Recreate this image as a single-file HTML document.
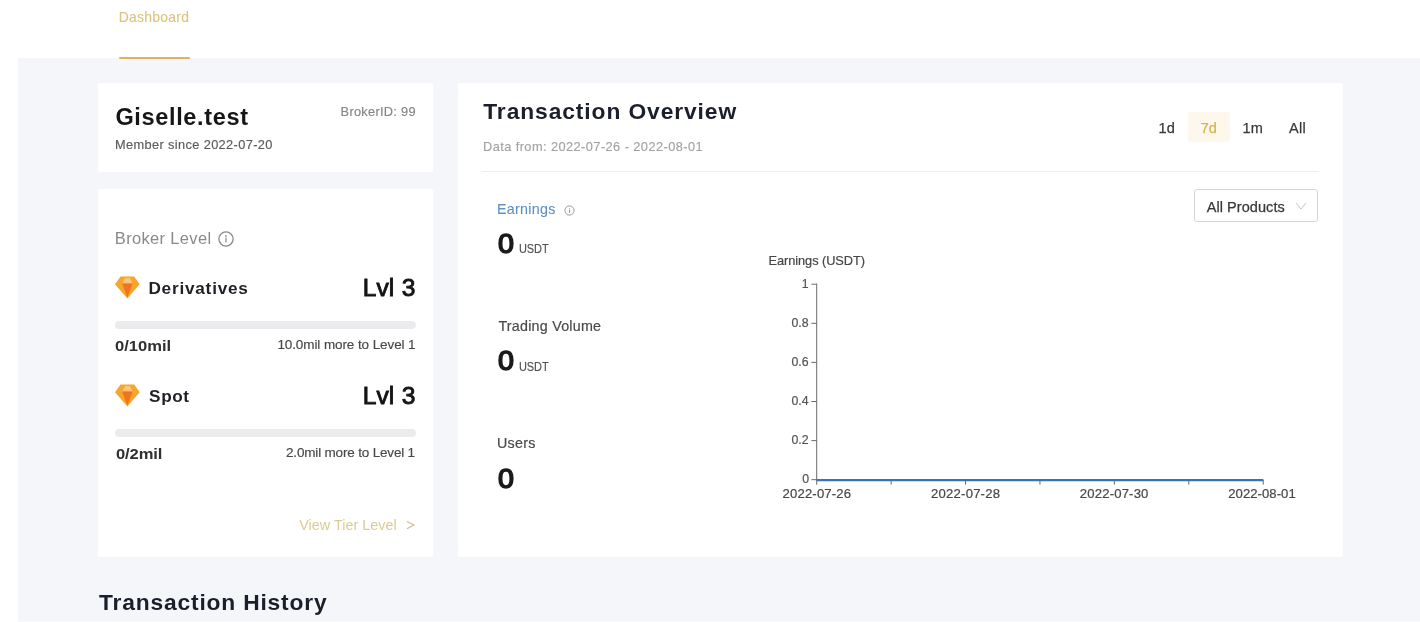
<!DOCTYPE html>
<html><head><meta charset="utf-8"><title>Dashboard</title><style>
html,body{margin:0;padding:0;width:1420px;height:622px;overflow:hidden;background:#fff;position:relative;font-family:"Liberation Sans",sans-serif;}
.abs{position:absolute;}
.t{position:absolute;white-space:nowrap;font-family:"Liberation Sans",sans-serif;}
.card{position:absolute;background:#fff;border-radius:2px;}
</style></head><body><div id="w" style="position:absolute;left:0;top:0;width:1440px;height:640px;overflow:hidden;filter:blur(0.4px)">
<div class="abs" style="left:18px;top:58px;right:0;bottom:0;background:#f4f6f9"></div>
<div class="abs" style="left:119px;top:56.5px;width:71px;height:2.2px;background:#deb260;border-radius:1px"></div>
<div class="card" style="left:98px;top:83.3px;width:335px;height:89px"></div>
<div class="card" style="left:98.2px;top:188.8px;width:334.8px;height:367.9px"></div>
<div class="card" style="left:457.8px;top:83.2px;width:885px;height:473.9px"></div>
<div class="abs" style="left:115px;top:320.7px;width:301px;height:8.2px;background:#ebebed;border-radius:4px"></div>
<div class="abs" style="left:115px;top:429px;width:301px;height:8.2px;background:#ebebed;border-radius:4px"></div>
<svg class="abs" style="left:218.4px;top:230.5px" width="16" height="16" viewBox="0 0 16 16"><circle cx="8" cy="8" r="7.1" fill="none" stroke="#8a8a8a" stroke-width="1.3"/><circle cx="8" cy="4.9" r="0.85" fill="#8a8a8a"/><rect x="7.4" y="6.6" width="1.2" height="4.9" fill="#8a8a8a"/></svg>
<svg class="abs" style="left:114.8px;top:275.6px" width="26" height="24" viewBox="0 0 26 24">
<polygon points="5.5,0.6 19.2,0.6 24.7,8.3 12.35,22.6 0,8.3" fill="#f6a62a"/>
<polygon points="10.1,2 14.9,2 17.7,7.6 7.2,7.6" fill="#fdc47a"/>
<polygon points="7.1,7.6 17.6,7.6 12.35,21.6" fill="#ef7421"/>
</svg>
<svg class="abs" style="left:114.8px;top:384.4px" width="26" height="24" viewBox="0 0 26 24">
<polygon points="5.5,0.6 19.2,0.6 24.7,8.3 12.35,22.6 0,8.3" fill="#f6a62a"/>
<polygon points="10.1,2 14.9,2 17.7,7.6 7.2,7.6" fill="#fdc47a"/>
<polygon points="7.1,7.6 17.6,7.6 12.35,21.6" fill="#ef7421"/>
</svg>
<svg class="abs" style="left:405px;top:518px" width="12" height="14" viewBox="0 0 12 14"><polyline points="2,3.4 9,7.1 2,10.8" fill="none" stroke="#cbbd92" stroke-width="1.1"/></svg>
<div class="abs" style="left:482px;top:171.4px;width:837px;height:1px;background:#eeeeee"></div>
<div class="abs" style="left:1188.3px;top:112.2px;width:41.7px;height:29.8px;background:#fef8ec;border-radius:3px"></div>
<div class="abs" style="left:1194.2px;top:189.0px;width:121.6px;height:31.3px;border:1px solid #d6d6d6;border-radius:3px"></div>
<svg class="abs" style="left:1295px;top:201px" width="12" height="10" viewBox="0 0 12 10"><polyline points="1,2 6,8 11,2" fill="none" stroke="#c4c4c4" stroke-width="1"/></svg>
<svg class="abs" style="left:563.6px;top:205.1px" width="11" height="11" viewBox="0 0 11 11"><circle cx="5.5" cy="5.5" r="4.6" fill="none" stroke="#9a9a9a" stroke-width="1"/><rect x="5" y="4.4" width="1" height="3.4" fill="#9a9a9a"/><circle cx="5.5" cy="3.2" r="0.55" fill="#9a9a9a"/></svg>
<svg class="abs" style="left:0;top:0" width="1420" height="622">
<line x1="816.7" y1="283.6" x2="816.7" y2="480" stroke="#6a6a6a" stroke-width="1"/>
<line x1="811.4" y1="284.2" x2="816.7" y2="284.2" stroke="#6a6a6a" stroke-width="1"/>
<line x1="811.4" y1="323.3" x2="816.7" y2="323.3" stroke="#6a6a6a" stroke-width="1"/>
<line x1="811.4" y1="362.4" x2="816.7" y2="362.4" stroke="#6a6a6a" stroke-width="1"/>
<line x1="811.4" y1="401.5" x2="816.7" y2="401.5" stroke="#6a6a6a" stroke-width="1"/>
<line x1="811.4" y1="440.6" x2="816.7" y2="440.6" stroke="#6a6a6a" stroke-width="1"/>
<line x1="811.4" y1="479.7" x2="816.7" y2="479.7" stroke="#6a6a6a" stroke-width="1"/>
<line x1="816.70" y1="479.7" x2="816.70" y2="484.7" stroke="#6a6a6a" stroke-width="1"/>
<line x1="891.12" y1="479.7" x2="891.12" y2="484.7" stroke="#6a6a6a" stroke-width="1"/>
<line x1="965.54" y1="479.7" x2="965.54" y2="484.7" stroke="#6a6a6a" stroke-width="1"/>
<line x1="1039.96" y1="479.7" x2="1039.96" y2="484.7" stroke="#6a6a6a" stroke-width="1"/>
<line x1="1114.38" y1="479.7" x2="1114.38" y2="484.7" stroke="#6a6a6a" stroke-width="1"/>
<line x1="1188.80" y1="479.7" x2="1188.80" y2="484.7" stroke="#6a6a6a" stroke-width="1"/>
<line x1="1263.22" y1="479.7" x2="1263.22" y2="484.7" stroke="#6a6a6a" stroke-width="1"/>
<line x1="816.7" y1="480.1" x2="1263.2" y2="480.1" stroke="#3276b6" stroke-width="2.1"/>
</svg>
<div class="t" style="left:118.80px;top:11.00px;font-size:13.9px;line-height:13.9px;color:#dcc27e;letter-spacing:0.275px;-webkit-text-stroke:0.1px #dcc27e;">Dashboard</div>
<div class="t" style="left:115.40px;top:105.80px;font-size:23.5px;line-height:23.5px;color:#161616;font-weight:bold;letter-spacing:0.655px;">Giselle.test</div>
<div class="t" style="left:115.00px;top:139.20px;font-size:12.8px;line-height:12.8px;color:#5a5a5a;letter-spacing:0.364px;-webkit-text-stroke:0.15px #5a5a5a;">Member since 2022-07-20</div>
<div class="t" style="left:340.60px;top:105.60px;font-size:12.8px;line-height:12.8px;color:#858585;letter-spacing:0.282px;-webkit-text-stroke:0.15px #858585;">BrokerID: 99</div>
<div class="t" style="left:114.80px;top:230.20px;font-size:16.5px;line-height:16.5px;color:#8a8a8a;letter-spacing:0.336px;">Broker Level</div>
<div class="t" style="left:148.40px;top:280.00px;font-size:17.2px;line-height:17.2px;color:#1e2026;font-weight:bold;letter-spacing:0.780px;">Derivatives</div>
<div class="t" style="left:362.70px;top:276.20px;font-size:24.6px;line-height:24.6px;color:#141414;letter-spacing:0.050px;-webkit-text-stroke:0.9px #141414;">Lvl</div>
<div class="t" style="left:401.70px;top:276.20px;font-size:24.6px;line-height:24.6px;color:#141414;-webkit-text-stroke:0.9px #141414;">3</div>
<div class="t" style="left:115.00px;top:339.10px;font-size:14.8px;line-height:14.8px;color:#303030;font-weight:bold;letter-spacing:-0.017px;transform:scaleX(1.12);transform-origin:0 0;">0/10mil</div>
<div class="t" style="left:277.40px;top:338.30px;font-size:13.5px;line-height:13.5px;color:#474747;letter-spacing:-0.095px;-webkit-text-stroke:0.15px #474747;">10.0mil more to Level 1</div>
<div class="t" style="left:149.10px;top:388.00px;font-size:17.2px;line-height:17.2px;color:#1e2026;font-weight:bold;letter-spacing:0.600px;">Spot</div>
<div class="t" style="left:362.70px;top:384.20px;font-size:24.6px;line-height:24.6px;color:#141414;letter-spacing:0.050px;-webkit-text-stroke:0.9px #141414;">Lvl</div>
<div class="t" style="left:401.70px;top:384.20px;font-size:24.6px;line-height:24.6px;color:#141414;-webkit-text-stroke:0.9px #141414;">3</div>
<div class="t" style="left:115.50px;top:447.30px;font-size:14.8px;line-height:14.8px;color:#303030;font-weight:bold;letter-spacing:-0.120px;transform:scaleX(1.12);transform-origin:0 0;">0/2mil</div>
<div class="t" style="left:286.00px;top:445.90px;font-size:13.5px;line-height:13.5px;color:#474747;letter-spacing:-0.176px;-webkit-text-stroke:0.15px #474747;">2.0mil more to Level 1</div>
<div class="t" style="left:299.20px;top:517.80px;font-size:14.3px;line-height:14.3px;color:#dccb92;letter-spacing:0.057px;">View Tier Level</div>
<div class="t" style="left:483.30px;top:100.00px;font-size:22.8px;line-height:22.8px;color:#1b1e2c;font-weight:bold;letter-spacing:0.905px;">Transaction Overview</div>
<div class="t" style="left:483.00px;top:140.60px;font-size:12.8px;line-height:12.8px;color:#a3a3a3;letter-spacing:0.424px;-webkit-text-stroke:0.15px #a3a3a3;">Data from: 2022-07-26 - 2022-08-01</div>
<div class="t" style="left:1158.45px;top:120.80px;font-size:14.5px;line-height:14.5px;color:#383838;letter-spacing:0.300px;-webkit-text-stroke:0.25px #383838;">1d</div>
<div class="t" style="left:1200.75px;top:120.80px;font-size:14.5px;line-height:14.5px;color:#d6b452;-webkit-text-stroke:0.25px #d6b452;">7d</div>
<div class="t" style="left:1242.45px;top:120.80px;font-size:14.5px;line-height:14.5px;color:#383838;letter-spacing:0.300px;-webkit-text-stroke:0.25px #383838;">1m</div>
<div class="t" style="left:1288.90px;top:120.80px;font-size:14.5px;line-height:14.5px;color:#383838;letter-spacing:0.350px;-webkit-text-stroke:0.25px #383838;">All</div>
<div class="t" style="left:1206.70px;top:199.60px;font-size:14.5px;line-height:14.5px;color:#383838;letter-spacing:0.064px;-webkit-text-stroke:0.25px #383838;">All Products</div>
<div class="t" style="left:496.90px;top:201.60px;font-size:14.3px;line-height:14.3px;color:#5f90c2;letter-spacing:0.300px;-webkit-text-stroke:0.1px #5f90c2;">Earnings</div>
<div class="t" style="left:497.90px;top:230.10px;font-size:27.3px;line-height:27.3px;color:#1a1a1a;-webkit-text-stroke:1.55px #1a1a1a;transform:scaleX(1.05);transform-origin:0 0;">0</div>
<div class="t" style="left:519.00px;top:243.00px;font-size:12.2px;line-height:12.2px;color:#505050;letter-spacing:-0.067px;-webkit-text-stroke:0.15px #505050;transform:scaleX(0.9);transform-origin:0 0;">USDT</div>
<div class="t" style="left:498.40px;top:318.80px;font-size:14.3px;line-height:14.3px;color:#4a4a4a;letter-spacing:0.231px;-webkit-text-stroke:0.2px #4a4a4a;">Trading Volume</div>
<div class="t" style="left:497.90px;top:347.10px;font-size:27.3px;line-height:27.3px;color:#1a1a1a;-webkit-text-stroke:1.55px #1a1a1a;transform:scaleX(1.05);transform-origin:0 0;">0</div>
<div class="t" style="left:519.00px;top:360.80px;font-size:12.2px;line-height:12.2px;color:#505050;letter-spacing:-0.067px;-webkit-text-stroke:0.15px #505050;transform:scaleX(0.9);transform-origin:0 0;">USDT</div>
<div class="t" style="left:496.90px;top:436.10px;font-size:14.3px;line-height:14.3px;color:#4a4a4a;letter-spacing:0.275px;-webkit-text-stroke:0.2px #4a4a4a;">Users</div>
<div class="t" style="left:497.90px;top:464.70px;font-size:27.3px;line-height:27.3px;color:#1a1a1a;-webkit-text-stroke:1.55px #1a1a1a;transform:scaleX(1.05);transform-origin:0 0;">0</div>
<div class="t" style="left:768.60px;top:255.30px;font-size:12.8px;line-height:12.8px;color:#474747;letter-spacing:-0.079px;-webkit-text-stroke:0.2px #474747;">Earnings (USDT)</div>
<div class="t" style="left:99.10px;top:590.90px;font-size:22.8px;line-height:22.8px;color:#1b1e2c;font-weight:bold;letter-spacing:0.817px;">Transaction History</div>
<div class="t" style="left:801.80px;top:277.80px;font-size:12.3px;line-height:12.3px;color:#555555;-webkit-text-stroke:0.2px #555555;">1</div>
<div class="t" style="left:791.50px;top:316.90px;font-size:12.3px;line-height:12.3px;color:#555555;-webkit-text-stroke:0.2px #555555;">0.8</div>
<div class="t" style="left:791.50px;top:356.00px;font-size:12.3px;line-height:12.3px;color:#555555;-webkit-text-stroke:0.2px #555555;">0.6</div>
<div class="t" style="left:791.50px;top:395.10px;font-size:12.3px;line-height:12.3px;color:#555555;-webkit-text-stroke:0.2px #555555;">0.4</div>
<div class="t" style="left:791.50px;top:434.20px;font-size:12.3px;line-height:12.3px;color:#555555;-webkit-text-stroke:0.2px #555555;">0.2</div>
<div class="t" style="left:802.30px;top:473.30px;font-size:12.3px;line-height:12.3px;color:#555555;-webkit-text-stroke:0.2px #555555;">0</div>
<div class="t" style="left:782.50px;top:486.80px;font-size:13.1px;line-height:13.1px;color:#474747;letter-spacing:0.178px;-webkit-text-stroke:0.2px #474747;">2022-07-26</div>
<div class="t" style="left:931.10px;top:486.80px;font-size:13.1px;line-height:13.1px;color:#474747;letter-spacing:0.211px;-webkit-text-stroke:0.2px #474747;">2022-07-28</div>
<div class="t" style="left:1079.80px;top:486.80px;font-size:13.1px;line-height:13.1px;color:#474747;letter-spacing:0.178px;-webkit-text-stroke:0.2px #474747;">2022-07-30</div>
<div class="t" style="left:1228.30px;top:486.80px;font-size:13.1px;line-height:13.1px;color:#474747;letter-spacing:0.044px;-webkit-text-stroke:0.2px #474747;">2022-08-01</div>
<div class="abs" style="left:18px;top:621px;right:0;height:1px;background:#f9fafb"></div>
</div></body></html>
